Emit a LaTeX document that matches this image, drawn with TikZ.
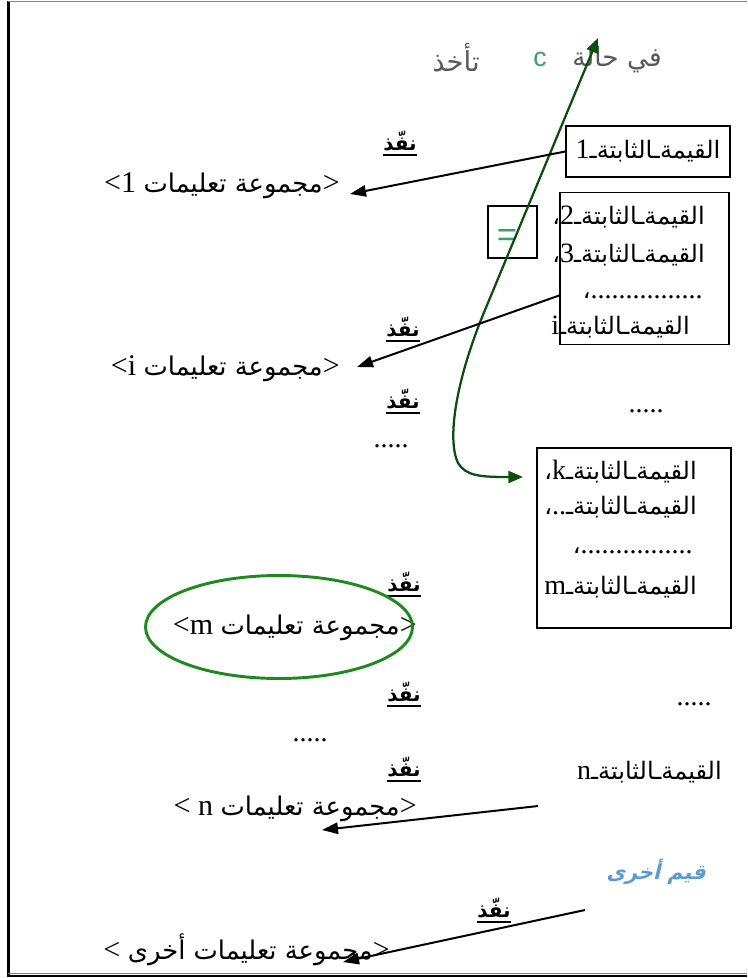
\documentclass[tikz,border=0pt]{standalone}
\usepackage{fontspec}
\usetikzlibrary{arrows.meta}
\setmainfont{Liberation Serif}
\newfontfamily\arabicfont[Script=Arabic,Scale=0.86]{DejaVu Sans}
\newfontfamily\arabicbold[Script=Arabic]{DejaVu Sans Bold}
\newfontfamily\arabicoblique[Script=Arabic,FakeSlant=0.25]{DejaVu Sans Bold}
\newfontfamily\headfont{Liberation Sans}
\TeXXeTstate=1

\definecolor{titlegray}{HTML}{595959}
\definecolor{cgreen}{HTML}{3AA06B}
\definecolor{pathgreen}{HTML}{0B4F0B}
\definecolor{ringgreen}{HTML}{1E8A1E}
\definecolor{otherblue}{HTML}{5B9BD5}

\newcommand{\artxt}[1]{{\arabicfont\beginR #1\endR}}
\newcommand{\qval}[2]{\artxt{القيمةـالثابتةـ{\rmfamily #1}#2}}
\newcommand{\qdots}{\artxt{{\rmfamily ................}،}}

\tikzset{
  valbox/.style={draw,line width=1.2pt,inner sep=0pt},
  rowtxt/.style={anchor=east,inner sep=0pt},
  setline/.style={rowtxt,font=\fontsize{22.5}{26}\selectfont},
  nafidh/.style={inner xsep=0pt,inner ysep=3pt,font=\arabicbold\fontsize{15}{17}\selectfont,
    append after command={(\tikzlastnode.south west) edge[line width=2pt] (\tikzlastnode.south east)}},
  runarrow/.style={line width=1.5pt,-{Triangle[length=12pt,width=8.5pt]}},
  casearrow/.style={pathgreen,line width=1.7pt,{Triangle[length=11pt,width=9pt]}-{Triangle[length=11pt,width=9pt]}}
}

\begin{document}
\begin{tikzpicture}[x=0.75pt,y=-0.75pt,font=\fontsize{21}{24}\selectfont]
 	\useasboundingbox (0,0) rectangle (747,978);
 	\draw[line width=2pt] (8.5,1) -- (8.5,977);
 	\draw[line width=1.2pt,gray] (8,1.5) -- (747,1.5);
 	\draw[line width=1pt,gray] (8,973.5) -- (747,973.5);
 	\draw[line width=1.5pt] (8,976) -- (747,976);

 	\node[text=titlegray,font=\fontsize{23}{26}\selectfont] (fihala) at (617,60) {\artxt{في حالة}};
 	\node[text=cgreen,font=\headfont\fontsize{20}{22}\selectfont] (cvar) at (540,59) {c};
 	\node[text=titlegray,font=\fontsize{24}{26}\selectfont] (takhudh) at (456,58) {\artxt{تأخذ}};

 	\node[valbox,minimum width=123pt,minimum height=38.25pt] (b1) at (648,151.5) {\qval{1}{}};
 	\node[valbox,minimum width=126.75pt,minimum height=114pt] (b2) at (644.5,268.5) {};
 	\node[valbox,minimum width=36.75pt,minimum height=39pt] (eqbox) at (512.5,232) {};
 	\node[text=cgreen,font=\headfont\fontsize{26}{26}\selectfont] (eq) at (507,238) {=};
 	\node[rowtxt] (v2) at (705,217) {\qval{2}{،}};
 	\node[rowtxt] (v3) at (705,255) {\qval{3}{،}};
 	\node[rowtxt] (v2dots) at (703,296) {\qdots};
 	\node[rowtxt] (vi) at (690,327) {\qval{i}{}};

 	\node[valbox,minimum width=145.5pt,minimum height=135pt] (b3) at (634,538) {};
 	\node[rowtxt] (vk) at (697,472) {\qval{k}{،}};
 	\node[rowtxt] (vj) at (697,507) {\qval{..}{،}};
 	\node[rowtxt] (v3dots) at (693,551) {\qdots};
 	\node[rowtxt] (vm) at (697,587) {\qval{m}{}};
 	\node[rowtxt] (vn) at (722,772) {\qval{n}{}};

 	\node (d1) at (646,411) {.....};
 	\node (d2) at (391,446) {.....};
 	\node (d3) at (694,704) {.....};
 	\node (d4) at (310,740) {.....};

 	\node[nafidh] (n1) at (400,141) {\beginR نفّذ\endR};
 	\node[nafidh] (n2) at (403,327) {\beginR نفّذ\endR};
 	\node[nafidh] (n3) at (403,399) {\beginR نفّذ\endR};
 	\node[nafidh] (n4) at (404,582) {\beginR نفّذ\endR};
 	\node[nafidh] (n5) at (404,692) {\beginR نفّذ\endR};
 	\node[nafidh] (n6) at (404,767) {\beginR نفّذ\endR};
 	\node[nafidh] (n7) at (494,908) {\beginR نفّذ\endR};

 	\node[setline] (L1) at (340,186) {<1 \artxt{مجموعة تعليمات}>};
 	\node[setline] (Li) at (340,369) {<i \artxt{مجموعة تعليمات}>};
 	\node[setline] (Lm) at (417,628) {<m \artxt{مجموعة تعليمات}>};
 	\node[setline] (Ln) at (417,809) {< n \artxt{مجموعة تعليمات}>};
 	\node[setline] (Lo) at (390,950) {< \artxt{مجموعة تعليمات أخرى}>};
 	\node[text=otherblue,font=\arabicoblique\fontsize{15.5}{18}\selectfont] (other) at (656,872) {\beginR قيم أخرى\endR};

 	\draw[ringgreen,line width=2.2pt] (279,627) ellipse [x radius=133.5,y radius=51.5];

 	\coordinate (ctop) at (598,38);
 	\coordinate (ck) at (523,477);
 	\draw[casearrow] (ctop) -- (485,310) .. controls (455,382) and (447,440) .. (458,463) .. controls (466,476) and (480,477) .. (ck);

 	\draw[runarrow] (b1.west) -- ([shift={(10,8)}]L1.east);
 	\draw[runarrow] ([shift={(0,27)}]b2.west) -- ([shift={(17,-2)}]Li.east);
 	\coordinate (nfrom) at (538,806);
 	\coordinate (nto) at (322,830);
 	\draw[runarrow] (nfrom) -- (nto);
 	\coordinate (ofrom) at (585,910);
 	\coordinate (oto) at (343,962);
 	\draw[runarrow] (ofrom) -- (oto);
\end{tikzpicture}
\end{document}
